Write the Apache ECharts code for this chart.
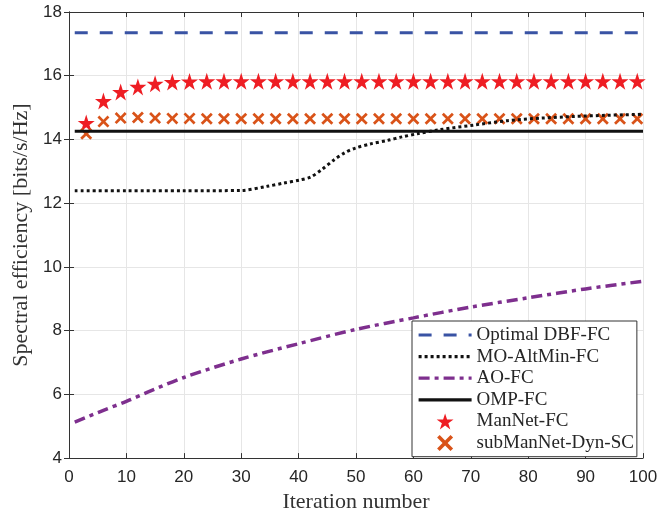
<!DOCTYPE html>
<html>
<head>
<meta charset="utf-8">
<script src="https://cdn.jsdelivr.net/npm/echarts@6/dist/echarts.min.js"></script>
<style>html,body{margin:0;padding:0;background:#fff}#c{width:671px;height:518px}</style>
</head>
<body>
<div id="c"></div>
<script>
// ---- data ----
const seriesNames = ['Optimal DBF-FC', 'MO-AltMin-FC', 'AO-FC', 'OMP-FC', 'ManNet-FC', 'subManNet-Dyn-SC'];
const xTicks = [0, 10, 20, 30, 40, 50, 60, 70, 80, 90, 100];
const yTicks = [4, 6, 8, 10, 12, 14, 16, 18];

const optimalIter = [1, 100];
const optimalVal = [17.35, 17.35];

const moIter = [1, 10, 20, 30, 34.5, 37.4, 40.3, 42.1, 44, 46.1, 48, 49.9, 52.5, 55.5, 58, 60.7, 64.7, 70.5, 76.4, 82.2, 88, 93.8, 100];
const moVal = [12.39, 12.39, 12.39, 12.40, 12.53, 12.63, 12.73, 12.82, 13.05, 13.35, 13.58, 13.73, 13.86, 13.97, 14.08, 14.18, 14.31, 14.45, 14.59, 14.67, 14.72, 14.76, 14.79];

const aoIter = [1, 6, 10, 13.6, 20, 30, 40, 50, 60, 70, 80, 90, 100];
const aoVal = [5.13, 5.50, 5.78, 6.06, 6.53, 7.11, 7.59, 8.04, 8.40, 8.74, 9.03, 9.31, 9.55];

const ompIter = [1, 100];
const ompVal = [14.26, 14.26];

const netIter = [3, 6, 9, 12, 15, 18, 21, 24, 27, 30, 33, 36, 39, 42, 45, 48, 51, 54, 57, 60, 63, 66, 69, 72, 75, 78, 81, 84, 87, 90, 93, 96, 99];
const manNetVal = [14.52, 15.21, 15.49, 15.65, 15.75, 15.80, 15.82, 15.83, 15.83, 15.83, 15.83, 15.83, 15.83, 15.83, 15.83, 15.83, 15.83, 15.83, 15.83, 15.83, 15.83, 15.83, 15.83, 15.83, 15.83, 15.83, 15.83, 15.83, 15.83, 15.83, 15.83, 15.83, 15.83];
const subManNetVal = [14.18, 14.56, 14.67, 14.69, 14.67, 14.66, 14.66, 14.65, 14.65, 14.65, 14.65, 14.65, 14.65, 14.65, 14.65, 14.65, 14.65, 14.65, 14.65, 14.65, 14.65, 14.65, 14.65, 14.65, 14.65, 14.65, 14.65, 14.65, 14.65, 14.65, 14.65, 14.65, 14.65];

const zip = (a, b) => a.map((v, i) => [v, b[i]]);

const crossPath = 'path://M0,1.6 L1.6,0 L5,3.4 L8.4,0 L10,1.6 L6.6,5 L10,8.4 L8.4,10 L5,6.6 L1.6,10 L0,8.4 L3.4,5 Z';
const starPath = 'path://M5,0 L6.18,3.62 L10,3.62 L6.91,5.86 L8.09,9.48 L5,7.24 L1.91,9.48 L3.09,5.86 L0,3.62 L3.82,3.62 Z';

const serif = '"Liberation Serif", "Times New Roman", serif';
const sans = '"Liberation Sans", Arial, sans-serif';
const axisColor = '#333';
const gridColor = '#e6e6e6';

const chart = echarts.init(document.getElementById('c'), null, {renderer: 'canvas'});

const baseX = {
  type: 'value', min: xTicks[0], max: xTicks[xTicks.length - 1], interval: 10,
  axisLine: {show: true, lineStyle: {color: axisColor, width: 1}},
  axisTick: {show: true, inside: true, length: 5, lineStyle: {color: axisColor}},
};
const baseY = {
  type: 'value', min: yTicks[0], max: yTicks[yTicks.length - 1], interval: 2,
  axisLine: {show: true, lineStyle: {color: axisColor, width: 1}},
  axisTick: {show: true, inside: true, length: 5, lineStyle: {color: axisColor}},
};

const hiddenSym = {opacity: 0, borderWidth: 0};

chart.setOption({
  animation: false,
  backgroundColor: '#fff',
  grid: {left: 69, right: 28, top: 12, bottom: 54, containLabel: false},
  xAxis: [
    Object.assign({}, baseX, {
      position: 'bottom',
      axisLabel: {show: true, color: '#262626', fontFamily: sans, fontSize: 17, margin: 11},
      splitLine: {show: true, lineStyle: {color: gridColor, width: 1}},
      name: 'Iteration number', nameLocation: 'middle', nameGap: 32,
      nameTextStyle: {fontFamily: serif, fontSize: 22, color: '#333'}
    }),
    Object.assign({}, baseX, {position: 'top', axisLabel: {show: false}, splitLine: {show: false}})
  ],
  yAxis: [
    Object.assign({}, baseY, {
      position: 'left',
      axisLabel: {show: true, color: '#262626', fontFamily: sans, fontSize: 17, margin: 7},
      splitLine: {show: true, lineStyle: {color: gridColor, width: 1}},
      name: 'Spectral efficiency [bits/s/Hz]', nameLocation: 'middle', nameGap: 34,
      nameTextStyle: {fontFamily: serif, fontSize: 22, color: '#333'}
    }),
    Object.assign({}, baseY, {position: 'right', axisLabel: {show: false}, splitLine: {show: false}})
  ],
  legend: {
    orient: 'vertical', left: 412, top: 321,
    padding: [4.5, 3, 4.2, 5], itemGap: 2.6, itemWidth: 53, itemHeight: 16,
    backgroundColor: '#fff', borderColor: '#333', borderWidth: 1, borderRadius: 0,
    lineStyle: {width: 3.2},
    textStyle: {fontFamily: serif, fontSize: 19, color: '#262626'},
    data: [
      {name: seriesNames[0], itemStyle: hiddenSym}, {name: seriesNames[1], itemStyle: hiddenSym},
      {name: seriesNames[2], itemStyle: hiddenSym}, {name: seriesNames[3], itemStyle: hiddenSym},
      {name: seriesNames[4], icon: starPath},
      {name: seriesNames[5], icon: crossPath}
    ]
  },
  series: [
    {name: seriesNames[0], type: 'line', data: zip(optimalIter, optimalVal), showSymbol: false, symbol: 'none',
     lineStyle: {color: '#3953A4', width: 3, type: [13, 12]}, itemStyle: {color: '#3953A4'}},
    {name: seriesNames[1], type: 'line', data: zip(moIter, moVal), showSymbol: false, symbol: 'none', smooth: 0.3,
     lineStyle: {color: '#111', width: 3, type: [3, 3]}, itemStyle: {color: '#111'}},
    {name: seriesNames[2], type: 'line', data: zip(aoIter, aoVal), showSymbol: false, symbol: 'none', smooth: 0.3,
     lineStyle: {color: '#7E2F8E', width: 3.5, type: [11, 5, 4, 5]}, itemStyle: {color: '#7E2F8E'}},
    {name: seriesNames[3], type: 'line', data: zip(ompIter, ompVal), showSymbol: false, symbol: 'none',
     lineStyle: {color: '#111', width: 3}, itemStyle: {color: '#111'}},
    {name: seriesNames[4], type: 'scatter', data: zip(netIter, manNetVal), symbol: starPath, symbolSize: 17,
     itemStyle: {color: '#EE1D23', opacity: 1}},
    {name: seriesNames[5], type: 'scatter', data: zip(netIter, subManNetVal), symbol: crossPath, symbolSize: 12,
     itemStyle: {color: '#D95319', opacity: 1}}
  ]
});
</script>
</body>
</html>
